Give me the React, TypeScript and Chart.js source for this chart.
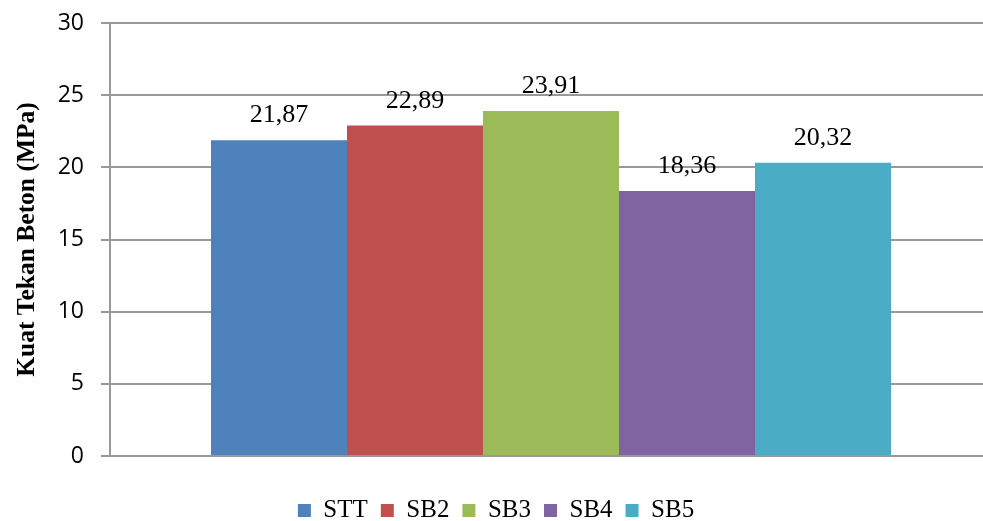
import React, { useEffect, useRef } from "react";
import { Chart, registerables } from "chart.js";

Chart.register(...registerables);

const categories = [""];
const seriesNames = ["STT", "SB2", "SB3", "SB4", "SB5"];
const seriesValues = [21.87, 22.89, 23.91, 18.36, 20.32];
const seriesColors = ["#4F81BD", "#C0504D", "#9BBB59", "#8064A2", "#4BACC6"];
const yTicks = [0, 5, 10, 15, 20, 25, 30];
const yTitle = "Kuat Tekan Beton (MPa)";

const valueLabels = {
  id: "valueLabels",
  afterDatasetsDraw(chart: any) {
    const ctx = chart.ctx;
    ctx.save();
    ctx.font = "26px 'Liberation Serif', 'Times New Roman', serif";
    ctx.fillStyle = "#000";
    ctx.textAlign = "center";
    ctx.textBaseline = "alphabetic";
    chart.data.datasets.forEach((ds: any, i: number) => {
      const meta = chart.getDatasetMeta(i);
      meta.data.forEach((bar: any, j: number) => {
        const v = ds.data[j] as number;
        ctx.fillText(v.toFixed(2).replace(".", ","), bar.x, bar.y - 18);
      });
    });
    ctx.restore();
  },
};

export default function App() {
  const ref = useRef<HTMLCanvasElement | null>(null);
  useEffect(() => {
    if (!ref.current) return;
    const chart = new Chart(ref.current, {
      type: "bar",
      data: {
        labels: categories,
        datasets: seriesNames.map((name, i) => ({
          label: name,
          data: [seriesValues[i]],
          backgroundColor: seriesColors[i],
          borderWidth: 0,
          barPercentage: 1,
          categoryPercentage: 0.771,
        })),
      },
      options: {
        responsive: false,
        animation: false,
        layout: { padding: { top: 23, right: 0, left: 0, bottom: -12 } },
        plugins: {
          tooltip: { enabled: false },
          legend: {
            position: "bottom",
            labels: {
              boxWidth: 13,
              boxHeight: 13,
              padding: 13,
              color: "#000",
              font: { family: "'Liberation Serif', 'Times New Roman', serif", size: 25 },
            },
          },
        },
        scales: {
          x: {
            ticks: { display: false },
            grid: { display: false },
            border: { display: true, color: "#999", width: 2 },
            afterFit(scale: any) {
              scale.height = 29;
            },
          },
          y: {
            min: 0,
            max: 30,
            afterBuildTicks(scale: any) {
              scale.ticks = yTicks.map((v) => ({ value: v }));
            },
            ticks: {
              stepSize: 5,
              padding: 17,
              color: "#000",
              font: { family: "'Open Sans', sans-serif", size: 23 },
            },
            grid: { color: "#999", lineWidth: 2, tickLength: 9, drawTicks: true },
            border: { display: true, color: "#999", width: 2 },
            title: {
              display: true,
              text: yTitle,
              color: "#000",
              padding: { top: 12, bottom: 0 },
              font: { family: "'Liberation Serif', 'Times New Roman', serif", size: 25.5, weight: "bold" },
            },
            afterFit(scale: any) {
              scale.width = 110;
              scale.paddingTop = 0;
              scale.paddingBottom = 0;
            },
          },
        },
      },
      plugins: [valueLabels],
    });
    return () => chart.destroy();
  }, []);
  return (
    <div style={{ position: "fixed", left: 0, top: 0, width: 992, height: 521, background: "#fff" }}>
      <canvas ref={ref} width={992} height={521} />
    </div>
  );
}
